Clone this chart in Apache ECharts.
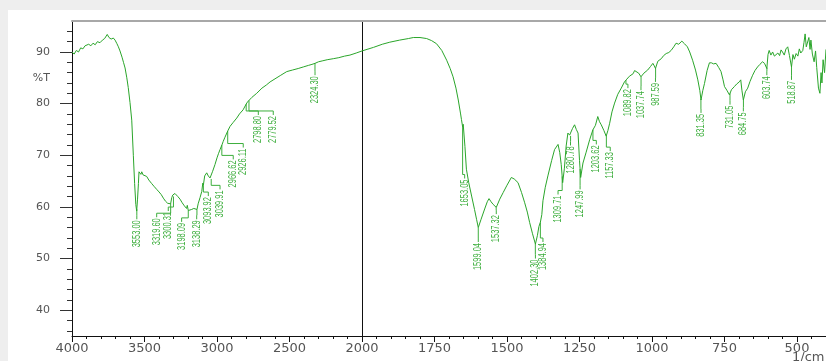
<!DOCTYPE html>
<html><head><meta charset="utf-8">
<script src="https://cdn.jsdelivr.net/npm/echarts@6/dist/echarts.min.js"></script>
<style>
html,body{margin:0;padding:0;background:#eeeeee;overflow:hidden;}
#panel{position:absolute;left:8px;top:10px;width:830px;height:360px;background:#ffffff;}
#c{position:absolute;left:0;top:0;width:826px;height:361px;}
</style>
</head><body><div id="panel"></div><div id="c"></div>
<script>
// ---- spectrum (wavenumber in 1/cm, transmittance in %T), descending wavenumber
const wavenumbers = [
4000,3985,3970,3955,3940,3925,3910,3899,3885,3870,3855,3840,3825,3807,3790,3775,3757,3745,3730,3715,3703,3690,3680,3669,3655,3645,3634,3622,3612,3600,3588,3577,3568,3560,3554,3548,3542,3538,3530,3525,3519,3510,3500,3485,3470,3460,3450,3435,3416,3400,3385,3370,3355,3340,3330,3320,3312,3305,3300,3290,3280,3270,3255,3240,3225,3210,3205,3198,3190,3175,3160,3150,3138,3130,3117,3105,3098,3094,3085,3071,3060,3048,3040,3030,3014,3000,2990,2979,2966,2957,2945,2926,2910,2890,2864,2845,2820,2799,2790,2780,2760,2726,2690,2660,2634,2600,2560,2519,2480,2440,2405,2370,2345,2324,2300,2270,2240,2198,2160,2120,2083,2040,2000,
1960,1930,1904,1870,1840,1823,1800,1777,1760,1743,1725,1708,1696,1686,1676,1668,1660,1657,1653,1651,1645,1640,1632,1622,1612,1605,1599,1590,1577,1568,1562,1555,1548,1537,1525,1513,1500,1485,1475,1462,1450,1439,1430,1422,1412,1402,1395,1390,1385,1380,1376,1368,1359,1346,1336,1324,1318,1313,1308,1302,1296,1290,1284,1281,1274,1267,1261,1255,1250,1246,1238,1227,1215,1204,1195,1187,1181,1175,1166,1158,1152,1146,1138,1129,1118,1106,1095,1089,1078,1065,1060,1054,1046,1038,1028,1015,1005,997,992,988,980,968,960,951,942,934,925,917,908,897,888,878,870,860,850,842,835,831,825,819,810,802,795,788,779,770,762,755,750,742,733,726,716,708,699,694,690,685,678,670,662,653,645,636,628,619,612,604,600,596,590,584,578,573,566,560,555,550,544,538,532,526,519,514,509,503,497,492,487,480,476,472,468,463,459,455,452,447,441,436,432,426,421,417,414,410,405,400];
const transmittance = [
90.0,89.6,90.3,90.0,90.8,90.6,91.2,91.0,91.5,91.2,91.7,91.4,92.0,91.8,92.3,92.6,93.4,92.8,92.5,92.7,92.3,91.6,91.0,90.2,89.0,88.0,86.9,85.0,83.1,80.2,76.8,70.0,64.5,60.5,59.2,61.5,64.5,66.8,67.0,66.3,66.8,66.2,66.4,65.9,65.2,64.9,64.5,64.0,63.4,62.9,62.4,61.7,61.1,60.7,60.4,60.6,61.8,62.3,62.0,62.6,62.3,62.0,61.5,60.8,60.2,59.7,60.3,59.3,59.6,59.5,59.7,60.0,59.5,60.6,61.8,63.0,64.6,64.2,66.0,66.6,66.0,65.6,65.4,66.9,68.2,69.5,70.3,71.1,72.0,72.7,73.5,74.7,75.6,76.3,77.2,78.0,78.8,79.9,80.3,80.6,81.2,82.0,83.0,83.6,84.2,84.8,85.5,86.2,86.5,86.8,87.1,87.4,87.6,87.8,88.1,88.3,88.5,88.7,88.9,89.2,89.4,89.8,90.2,
90.9,91.5,91.9,92.3,92.6,92.8,92.8,92.6,92.2,91.6,90.3,88.4,86.8,85.2,83.0,80.7,78.0,76.9,75.5,76.0,71.7,67.3,64.7,62.1,59.5,57.6,56.0,57.5,59.6,61.0,61.6,61.0,60.5,59.9,61.5,62.8,64.2,65.7,65.4,64.7,62.8,60.8,59.0,57.0,54.8,52.8,54.5,56.2,57.0,58.5,61.2,63.8,66.0,69.0,71.1,72.1,70.5,68.2,64.7,67.5,71.8,74.3,73.9,73.7,75.2,75.9,75.0,74.3,69.0,65.7,68.5,70.6,73.0,74.9,75.8,77.5,76.5,75.9,74.8,73.7,74.8,76.2,78.4,80.1,81.8,83.0,84.2,84.6,85.3,85.8,86.4,86.2,85.9,85.2,85.9,86.5,87.2,87.8,87.3,86.8,88.2,88.7,89.3,89.7,89.9,90.3,91.0,91.7,91.5,92.1,91.6,91.0,90.0,88.4,86.5,84.6,82.5,80.7,82.5,83.9,86.4,87.9,87.9,87.7,87.8,87.0,86.2,84.6,83.3,82.6,81.7,82.7,83.3,83.8,84.2,84.6,82.6,80.7,82.3,83.0,84.3,85.5,86.4,87.1,87.6,88.1,87.8,86.8,89.5,90.3,89.4,90.0,89.2,89.0,89.8,89.3,90.4,90.0,89.4,90.6,91.0,89.3,87.1,89.5,88.6,89.7,89.2,90.6,89.8,90.3,91.8,93.5,91.0,91.0,92.8,90.5,92.3,89.6,88.1,90.2,87.0,83.0,82.0,86.0,84.0,88.5,86.0,90.5];

// ---- peak picks: wavenumber, and where its label sits (wavenumber, %T of label top)
const peakWavenumbers = [3553.00,3319.60,3300.31,3198.09,3138.29,3093.92,3039.91,2966.62,2926.11,2798.80,2779.52,2324.30,
  1653.05,1599.04,1537.32,1402.30,1384.94,1309.71,1280.78,1247.99,1203.62,1157.33,1089.82,1037.74,987.59,831.35,731.05,684.75,603.74,518.87];
const labelWavenumbers = [3553,3416,3336,3244,3140,3060,2979,2888,2819,2715,2612,2324,
  1646,1599,1537,1402,1376,1324,1281,1248,1192,1144,1083,1038,988,831,731,685,604,519];
const labelTopT = [57.6,58.0,59.2,57.1,57.6,62.1,63.4,69.2,71.5,77.8,77.8,85.5,
  65.5,53.2,58.6,50.0,53.2,62.4,71.9,63.4,72.1,70.8,83.0,82.6,84.2,78.2,79.8,78.5,85.5,84.6];

// ---- axis ticks / labels
const yLabelValues = [40,50,60,70,80,90];
const yMinorTicks = [36,38,42,44,46,48,52,54,56,58,62,64,66,68,72,74,76,78,82,84,86,88,92,94];
const xLabelsLeft = [4000,3500,3000,2500,2000];
const xMinorLeft = [3900,3800,3700,3600,3400,3300,3200,3100,2900,2800,2700,2600,2400,2300,2200,2100];
const xLabelsRight = [1750,1500,1250,1000,750,500];
const xMinorRight = [1950,1900,1850,1800,1700,1650,1600,1550,1450,1400,1350,1300,1200,1150,1100,1050,950,900,850,800,700,650,600,550,450,400];

function interpT(w) {
  for (let i = 0; i < wavenumbers.length - 1; i++) {
    const a = wavenumbers[i], b = wavenumbers[i + 1];
    if (w <= a && w >= b) {
      const t = (a - w) / (a - b);
      return transmittance[i] + t * (transmittance[i + 1] - transmittance[i]);
    }
  }
  return transmittance[transmittance.length - 1];
}

const leftData = [], rightData = [];
wavenumbers.forEach((w, i) => {
  if (w >= 2000) leftData.push([w, transmittance[i]]);
  if (w <= 2000) rightData.push([w, transmittance[i]]);
});
const leftPeaks = [], rightPeaks = [];
peakWavenumbers.forEach((w, i) => {
  const item = [w, interpT(w), labelWavenumbers[i], labelTopT[i], i];
  (w > 2000 ? leftPeaks : rightPeaks).push(item);
});

const LINE = '#2aa52a';
const LABEL = '#3cae3c';
const AXIS_FONT = 'DejaVu Sans';
const plain = v => String(v);

function renderPeak(params, api) {
  const p = api.coord([api.value(0), api.value(1)]);
  const l = api.coord([api.value(2), api.value(3)]);
  const bend = l[1] - 4;
  const pts = [p, [p[0], Math.max(p[1], bend)], [l[0], bend], l];
  const text = peakWavenumbers[api.value(4)].toFixed(2);
  return {
    type: 'group',
    children: [
      { type: 'polyline', shape: { points: pts }, style: { stroke: LABEL, lineWidth: 1, fill: null } },
      { type: 'text', x: l[0], y: l[1] + 1, rotation: Math.PI / 2, scaleX: 0.68,
        style: { text: text, x: 0, y: 0, align: 'right', verticalAlign: 'middle',
                 fill: LABEL, font: '11px "Liberation Sans", Arial, sans-serif' } }
    ]
  };
}

const blackLine = { show: true, lineStyle: { color: '#111', width: 1 } };
const grayTop = { show: true, lineStyle: { color: '#a8a8a8', width: 2 } };

const option = {
  backgroundColor: 'transparent',
  animation: false,
  grid: [
    { left: 72, top: 21, width: 290, height: 315 },
    { left: 362, top: 21, width: 465, height: 315 }
  ],
  xAxis: [
    { gridIndex: 0, type: 'value', position: 'bottom', min: 2000, max: 4000, inverse: true,
      axisLine: blackLine, splitLine: { show: false },
      axisTick: { show: true, customValues: xLabelsLeft, length: 6, lineStyle: { color: '#111' } },
      axisLabel: { customValues: xLabelsLeft, formatter: plain, margin: 6, color: '#555', fontFamily: AXIS_FONT, fontSize: 13 } },
    { gridIndex: 0, type: 'value', position: 'bottom', min: 2000, max: 4000, inverse: true,
      axisLine: { show: false }, splitLine: { show: false },
      axisTick: { show: true, customValues: xMinorLeft, length: 3, lineStyle: { color: '#111' } },
      axisLabel: { show: false } },
    { gridIndex: 0, type: 'value', position: 'top', min: 2000, max: 4000, inverse: true,
      axisLine: grayTop, axisTick: { show: false }, axisLabel: { show: false }, splitLine: { show: false } },
    { gridIndex: 1, type: 'value', position: 'bottom', min: 400, max: 2000, inverse: true,
      axisLine: blackLine, splitLine: { show: false },
      axisTick: { show: true, customValues: xLabelsRight, length: 6, lineStyle: { color: '#111' } },
      axisLabel: { customValues: xLabelsRight, formatter: plain, margin: 6, color: '#555', fontFamily: AXIS_FONT, fontSize: 13 } },
    { gridIndex: 1, type: 'value', position: 'bottom', min: 400, max: 2000, inverse: true,
      axisLine: { show: false }, splitLine: { show: false },
      axisTick: { show: true, customValues: xMinorRight, length: 3, lineStyle: { color: '#111' } },
      axisLabel: { show: false } },
    { gridIndex: 1, type: 'value', position: 'top', min: 400, max: 2000, inverse: true,
      axisLine: grayTop, axisTick: { show: false }, axisLabel: { show: false }, splitLine: { show: false } }
  ],
  yAxis: [
    { gridIndex: 0, type: 'value', position: 'left', min: 35, max: 96,
      axisLine: blackLine, splitLine: { show: false },
      axisTick: { show: true, customValues: yLabelValues, length: 12, lineStyle: { color: '#333' } },
      axisLabel: { customValues: yLabelValues.concat([85]), margin: 22, color: '#555', fontFamily: AXIS_FONT, fontSize: 11,
        formatter: v => (v === 85 ? '%T' : String(v)) } },
    { gridIndex: 0, type: 'value', position: 'left', min: 35, max: 96,
      axisLine: { show: false }, splitLine: { show: false },
      axisTick: { show: true, customValues: yMinorTicks, length: 5, lineStyle: { color: '#333' } },
      axisLabel: { show: false } },
    { gridIndex: 1, type: 'value', position: 'left', min: 35, max: 96,
      axisLine: blackLine, splitLine: { show: false }, axisTick: { show: false }, axisLabel: { show: false } }
  ],
  graphic: [
    { type: 'text', left: 792, top: 351, style: { text: '1/cm', fill: '#555', font: '13px "DejaVu Sans"' } }
  ],
  series: [
    { type: 'line', xAxisIndex: 0, yAxisIndex: 0, data: leftData, showSymbol: false, symbol: 'none',
      lineStyle: { color: LINE, width: 1 }, clip: true },
    { type: 'line', xAxisIndex: 3, yAxisIndex: 2, data: rightData, showSymbol: false, symbol: 'none',
      lineStyle: { color: LINE, width: 1 }, clip: true },
    { type: 'custom', xAxisIndex: 0, yAxisIndex: 0, data: leftPeaks, renderItem: renderPeak, clip: false },
    { type: 'custom', xAxisIndex: 3, yAxisIndex: 2, data: rightPeaks, renderItem: renderPeak, clip: false }
  ]
};

const chart = echarts.init(document.getElementById('c'), null, { renderer: 'canvas' });
chart.setOption(option);
</script>
</body></html>
